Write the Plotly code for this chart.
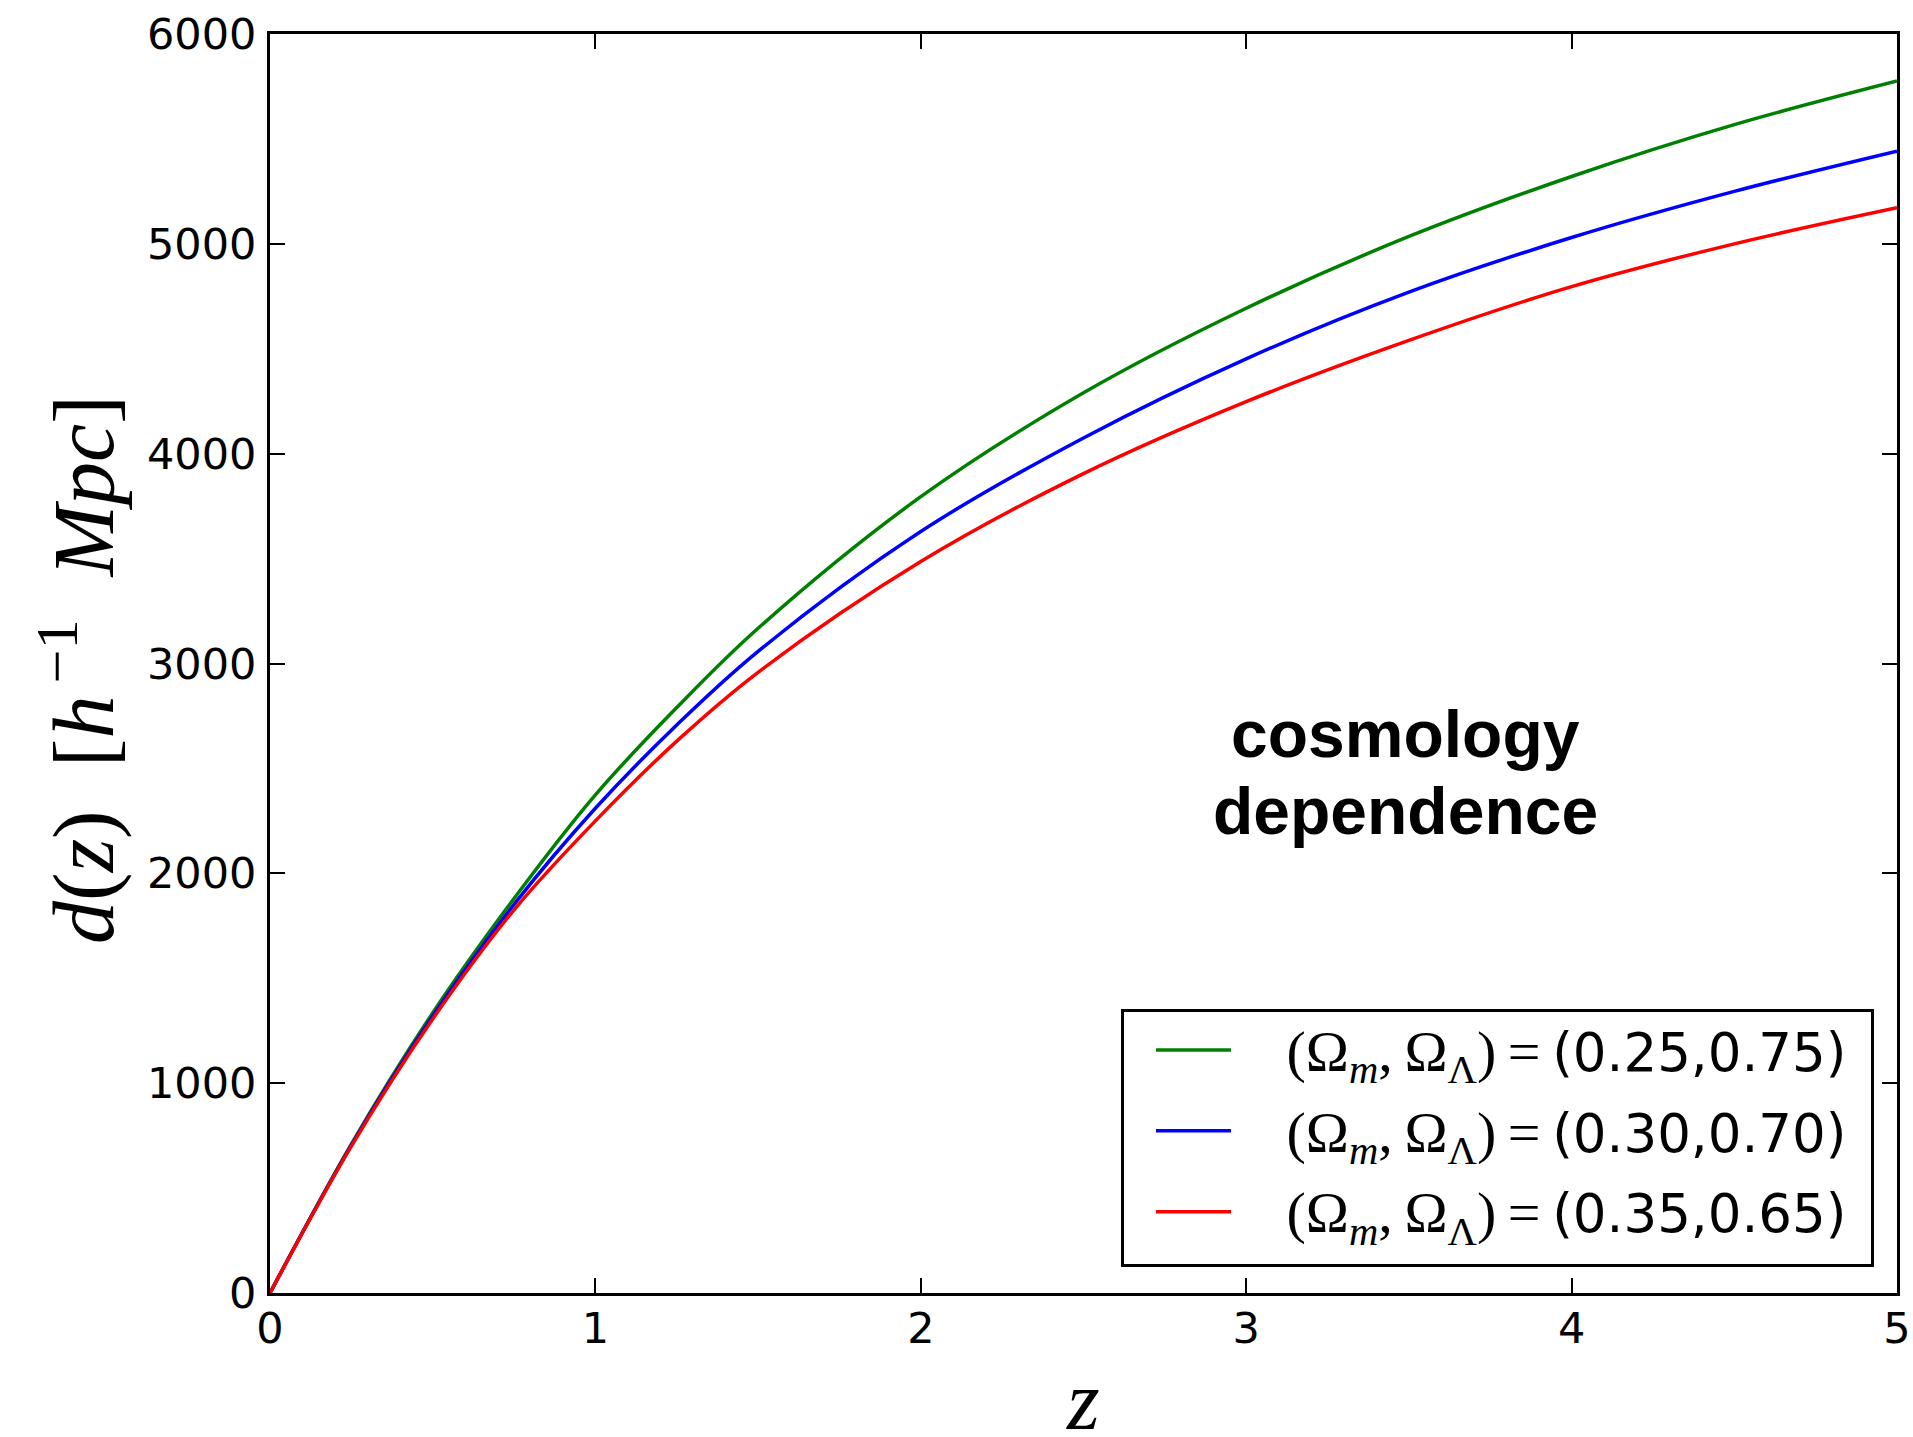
import plotly.graph_objects as go

# Comoving distance d(z) in h^-1 Mpc for three flat cosmologies
z = [0, 0.25, 0.5, 0.75, 1, 1.25, 1.5, 2, 2.5, 3, 3.5, 4, 4.5, 5]
d_025 = [0, 710, 1335, 1880, 2374, 2790, 3168, 3795, 4290, 4693, 5035, 5321, 5568, 5776]
d_030 = [0, 705, 1320, 1852, 2310, 2707, 3058, 3629, 4075, 4452, 4770, 5030, 5250, 5442]
d_035 = [0, 700, 1306, 1826, 2250, 2630, 2958, 3486, 3905, 4248, 4540, 4796, 5000, 5172]

params = ["(0.25,0.75)", "(0.30,0.70)", "(0.35,0.65)"]
colors = ["#008000", "#0000ff", "#ff0000"]
series = [d_025, d_030, d_035]

x_ticks = [0, 1, 2, 3, 4, 5]
y_ticks = [0, 1000, 2000, 3000, 4000, 5000, 6000]

W, H = 1913, 1437
L, R, T, B = 270, 16, 34, 144

math_lbl = ("<span style=\"font-family:Liberation Serif;font-size:58px\">"
            "(Ω<sub><i>m</i></sub>,\u2009Ω<sub>Λ</sub>)\u2009=\u2009</span>")

fig = go.Figure()
for i, (vals, col, p) in enumerate(zip(series, colors, params)):
    fig.add_trace(go.Scatter(
        x=z, y=vals, mode="lines",
        line=dict(color=col, width=3.5, shape="spline", smoothing=1.0),
        name="\u00a0\u00a0\u00a0" + math_lbl + p,
        legendgroup=f"g{i}",
    ))

axis_common = dict(
    showline=True, linecolor="black", linewidth=3, mirror="allticks",
    ticks="inside", ticklen=15, tickwidth=1.5, tickcolor="black",
    showgrid=False, zeroline=False,
    tickfont=dict(family="DejaVu Sans", size=43, color="black"),
)

fig.update_xaxes(range=[0, 5], tickvals=x_ticks, ticktext=[str(v) for v in x_ticks],
                 ticklabelstandoff=-5, **axis_common)
fig.update_yaxes(range=[0, 6000], tickvals=y_ticks, ticktext=[str(v) for v in y_ticks],
                 ticklabelstandoff=2, **axis_common)

def px_x(px):
    return (px - L) / (W - L - R)

def px_y(py):
    return (H - B - py) / (H - T - B)

annotations = [
    # axis titles
    dict(x=px_x(1083), y=px_y(1400), text="<i>z</i>", showarrow=False,
         xref="paper", yref="paper", xanchor="center", yanchor="middle",
         font=dict(family="Liberation Serif", size=84, color="black")),
    dict(x=px_x(77), y=px_y(670),
         text="<i>d</i>(<i>z</i>)\u2002[<i>h</i><sup>\u2009−1</sup>\u2002<i>Mpc</i>]",
         showarrow=False, textangle=-90,
         xref="paper", yref="paper", xanchor="center", yanchor="middle",
         font=dict(family="Liberation Serif", size=86, color="black")),
    # in-panel label
    dict(x=px_x(1405), y=px_y(734), text="<b>cosmology</b>", showarrow=False,
         xref="paper", yref="paper", xanchor="center", yanchor="middle",
         font=dict(family="Liberation Sans", size=66, color="black")),
    dict(x=px_x(1405), y=px_y(811), text="<b>dependence</b>", showarrow=False,
         xref="paper", yref="paper", xanchor="center", yanchor="middle",
         font=dict(family="Liberation Sans", size=66, color="black")),
]

# legend frame
shapes = [
    dict(type="rect", xref="paper", yref="paper",
         x0=px_x(1122.5), x1=px_x(1872.5), y0=px_y(1265.5), y1=px_y(1010.5),
         line=dict(color="black", width=3), fillcolor="rgba(0,0,0,0)", layer="above"),
]

fig.update_layout(
    width=W, height=H,
    margin=dict(l=L, r=R, t=T, b=B, autoexpand=False),
    paper_bgcolor="white", plot_bgcolor="white",
    showlegend=True,
    legend=dict(
        x=px_x(1151), y=px_y(1009), xanchor="left", yanchor="top",
        borderwidth=0, bgcolor="rgba(0,0,0,0)",
        font=dict(family="DejaVu Sans", size=53, color="black"),
        itemwidth=75, tracegroupgap=9,
    ),
    shapes=shapes,
    annotations=annotations,
)

fig.write_html("out.html")
